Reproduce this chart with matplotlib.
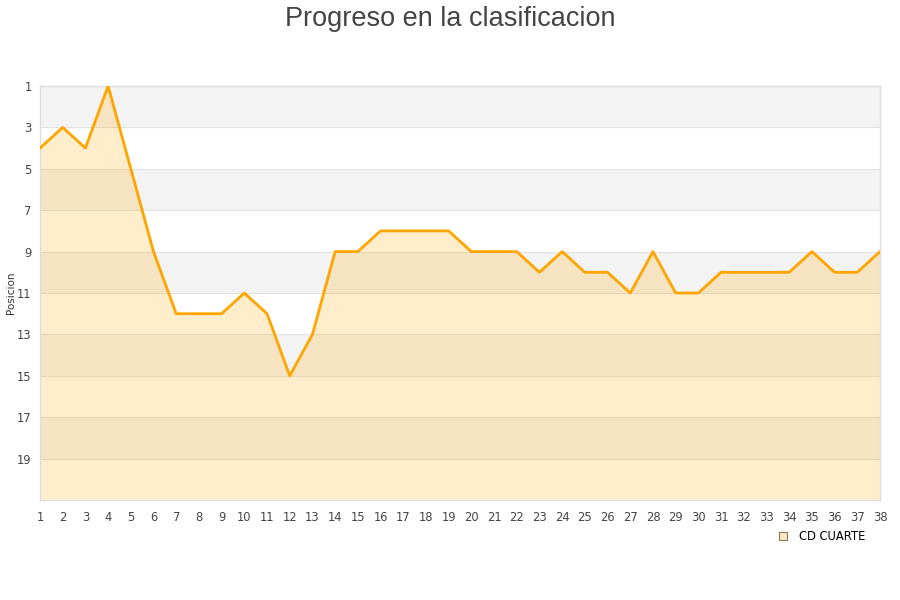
import matplotlib
matplotlib.use("Agg")
import matplotlib.pyplot as plt
from matplotlib.lines import Line2D

jornadas = list(range(1, 39))
posiciones = [4, 3, 4, 1, 5, 9, 12, 12, 12, 11, 12, 15, 13, 9, 9, 8, 8, 8, 8, 9,
              9, 9, 10, 9, 10, 10, 11, 9, 11, 11, 10, 10, 10, 10, 9, 10, 10, 9]
equipo = "CD CUARTE"
titulo = "Progreso en la clasificacion"
y_ticks = [1, 3, 5, 7, 9, 11, 13, 15, 17, 19]

fig = plt.figure(figsize=(9, 6), dpi=100)
ax = fig.add_axes([40/900, 1-500/600, 840/900, 414/600])

ymin, ymax = 1, 21
# alternating bands
for i, lo in enumerate(range(1, 21, 2)):
    if i % 2 == 0:
        ax.axhspan(lo, lo + 2, color="#f3f3f3", zorder=0, lw=0)

for t in y_ticks[1:]:
    ax.axhline(t, color="#e2e2e2", lw=0.8, zorder=1)

ax.fill_between(jornadas, posiciones, ymax, color="#ffa500", alpha=0.2, lw=0, zorder=2)
ax.plot(jornadas, posiciones, color="#ffa500", lw=2.0, zorder=3)

ax.set_xlim(1, 38)
ax.set_ylim(ymax, ymin)
ax.set_yticks(y_ticks)
ax.set_xticks(jornadas)
ax.tick_params(axis="both", length=0, labelsize=8.3, colors="#444444", pad=8)
ax.tick_params(axis="y", pad=6)
for s in ax.spines.values():
    s.set_color("#dddddd")
    s.set_linewidth(1)

ax.set_ylabel("Posicion", fontsize=7.5, color="#333333", labelpad=1)

fig.text(0.5, 0.99, titulo, ha="center", va="top", fontsize=19.5,
         family="Liberation Sans", color="#444444")

handle = Line2D([], [], marker="s", linestyle="none", markersize=6,
                markerfacecolor="#fde8c0", markeredgecolor="#8a7a60", markeredgewidth=0.8)
fig.legend([handle], [equipo], loc="center left", bbox_to_anchor=(767/900, 1-537/600),
           frameon=False, fontsize=8.3, handletextpad=0.4, borderaxespad=0)

fig.savefig("out.png", dpi=100)
